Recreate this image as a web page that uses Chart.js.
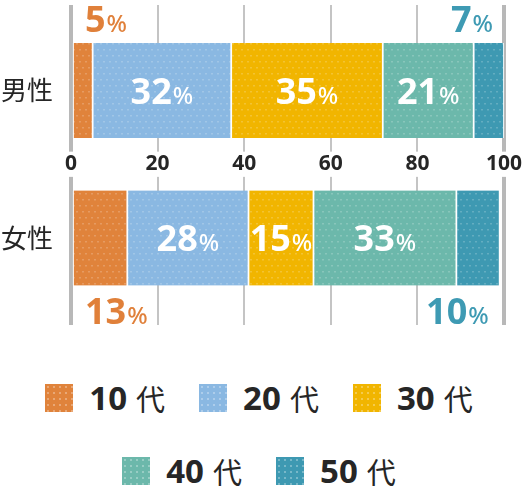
<!DOCTYPE html>
<html lang="ja">
<head>
<meta charset="utf-8">
<title>年代別構成比</title>
<script src="https://cdn.jsdelivr.net/npm/chart.js@4.4.1/dist/chart.umd.min.js"></script>
<style>
  html, body { margin: 0; padding: 0; background: #fff; overflow: hidden; }
  #wrap { position: relative; width: 528px; height: 492px; }
  #chartBox { position: absolute; left: 0; top: 0; width: 528px; height: 340px; }
  #legend {
    position: absolute; left: 0; top: 384px; width: 518px;
    display: flex; justify-content: center;
  }
  #legend ul {
    list-style: none; margin: 0; padding: 0; width: 460px;
    display: flex; flex-wrap: wrap; justify-content: center;
    column-gap: 34px; row-gap: 45px;
  }
  #legend li { display: flex; align-items: center; height: 28px; color: #262626; }
  #legend .box { width: 28px; height: 28px; margin-right: 16px; }
  #legend .num { font: 700 33px "Noto Sans", sans-serif; line-height: 28px; }
  #legend .suf { font: 400 29px "Noto Sans CJK JP", sans-serif; line-height: 28px; margin-left: 9px; }
</style>
</head>
<body>
<div id="wrap">
  <div id="chartBox"><canvas id="ageChart"></canvas></div>
  <div id="legend"></div>
</div>
<script>
// データ
const categories = ['男性', '女性'];
const ageGroups = ['10代', '20代', '30代', '40代', '50代'];
const maleValues = [5, 32, 35, 21, 7];
const femaleValues = [13, 28, 15, 33, 10];
const xTicks = [0, 20, 40, 60, 80, 100];

// 色
const barColors = ['#e0833b', '#8ab8e2', '#f1b500', '#6cb8ab', '#3e99b2'];
const outsideColors = ['#e0803a', '#3e9ab3', '#3e9ab3', '#3e9ab3', '#3e9ab3'];

const numFont = '700 36px "Noto Sans", sans-serif';
const pctFont = '500 24px "Noto Sans", sans-serif';
const catFont = '400 26px "Noto Sans CJK JP", sans-serif';

// HTML の凡例（チャートより先に作る）
const ul = document.createElement('ul');
ageGroups.forEach((label, i) => {
    const m = label.match(/^(\d+)(.*)$/);
    const li = document.createElement('li');
    const box = document.createElement('span');
    box.className = 'box';
    box.style.background = barColors[i];
    box.style.backgroundImage = 'radial-gradient(rgba(255,255,255,0.3) 0.8px, transparent 1.1px)';
    box.style.backgroundSize = '6px 6px';
    const num = document.createElement('span');
    num.className = 'num';
    num.textContent = m[1];
    const suf = document.createElement('span');
    suf.className = 'suf';
    suf.textContent = m[2];
    li.appendChild(box);
    li.appendChild(num);
    li.appendChild(suf);
    ul.appendChild(li);
});
document.getElementById('legend').appendChild(ul);

// ドット柄のパターン
function makePattern(color) {
    const c = document.createElement('canvas');
    c.width = 6;
    c.height = 12;
    const g = c.getContext('2d');
    g.fillStyle = color;
    g.fillRect(0, 0, 6, 12);
    g.fillStyle = 'rgba(255,255,255,0.2)';
    g.fillRect(1, 1, 2, 1.5);
    g.fillRect(4, 7, 2, 1.5);
    return g.createPattern(c, 'repeat');
}

// 棒の中・外にパーセント、左にカテゴリ名を描く
const pctLabels = {
    id: 'pctLabels',
    afterDatasetsDraw(chart) {
        const ctx = chart.ctx;
        chart.data.datasets.forEach((ds, i) => {
            const meta = chart.getDatasetMeta(i);
            meta.data.forEach((bar, j) => {
                const v = ds.data[j].x;
                const p = bar.getProps(['x', 'y', 'base', 'height'], true);
                const left = Math.min(p.x, p.base);
                const right = Math.max(p.x, p.base);
                ctx.save();
                ctx.font = numFont;
                const wn = ctx.measureText(String(v)).width;
                ctx.font = pctFont;
                const wp = ctx.measureText('%').width;
                const w = wn + 1 + wp;
                let sx, baseline, color;
                if (v >= 15) {
                    sx = (left + right) / 2 - w / 2;
                    baseline = p.y + 13;
                    color = '#fff';
                } else {
                    // 小さい値は棒の外に
                    color = outsideColors[i];
                    sx = i === 0 ? left + 12 : right - 11 - w;
                    baseline = j === 0 ? p.y - p.height / 2 - 11 : p.y + p.height / 2 + 39;
                }
                ctx.fillStyle = color;
                ctx.textAlign = 'left';
                ctx.textBaseline = 'alphabetic';
                ctx.font = numFont;
                ctx.fillText(String(v), sx, baseline);
                ctx.font = pctFont;
                ctx.fillText('%', sx + wn + 1, baseline);
                ctx.restore();
            });
        });
    },
    afterDraw(chart) {
        const ctx = chart.ctx;
        const yScale = chart.scales.y;
        ctx.save();
        ctx.font = catFont;
        ctx.fillStyle = '#262626';
        ctx.textAlign = 'right';
        ctx.textBaseline = 'middle';
        categories.forEach((c, i) => {
            ctx.fillText(c, yScale.right - 18, yScale.getPixelForValue(i));
        });
        ctx.restore();
    }
};

const datasets = ageGroups.map((g, i) => ({
    label: g,
    data: [{ x: maleValues[i], y: 0 }, { x: femaleValues[i], y: 1 }],
    backgroundColor: makePattern(barColors[i]),
    borderColor: '#fff',
    borderWidth: { left: 1.2, right: 1.2, top: 0, bottom: 0 },
    borderSkipped: false,
    barThickness: 95
}));

const chart = new Chart(document.getElementById('ageChart'), {
    type: 'bar',
    data: { datasets: datasets },
    plugins: [pctLabels],
    options: {
        indexAxis: 'y',
        responsive: true,
        maintainAspectRatio: false,
        animation: false,
        layout: { padding: { left: 0, right: 24, top: 5, bottom: 15 } },
        plugins: {
            legend: { display: false },
            tooltip: { enabled: false }
        },
        scales: {
            x: {
                type: 'linear',
                stacked: true,
                min: 0,
                max: 100,
                position: { y: 0.5 },
                afterBuildTicks: (scale) => { scale.ticks = xTicks.map(v => ({ value: v })); },
                afterFit: (scale) => {
                    scale.paddingLeft = 0;
                    scale.paddingRight = 0;
                    scale.paddingTop = 0;
                    scale.paddingBottom = 0;
                },
                border: { display: false },
                grid: {
                    drawTicks: false,
                    color: (c) => (c.tick && (c.tick.value === 0 || c.tick.value === 100)) ? '#b8b8b8' : '#c4c4c4',
                    lineWidth: (c) => (c.tick && (c.tick.value === 0 || c.tick.value === 100)) ? 4 : 2
                },
                ticks: {
                    padding: 0,
                    crossAlign: 'center',
                    color: '#262626',
                    font: { family: '"Noto Sans", sans-serif', size: 21, weight: 'bold' },
                    showLabelBackdrop: true,
                    backdropColor: '#fff',
                    backdropPadding: { x: 3, y: 0 }
                }
            },
            y: {
                type: 'linear',
                stacked: true,
                offset: false,
                reverse: true,
                min: -0.58,
                max: 1.59,
                afterBuildTicks: (scale) => { scale.ticks = categories.map((c, i) => ({ value: i })); },
                afterFit: (scale) => {
                    scale.width = 71;
                    scale.paddingTop = 0;
                    scale.paddingBottom = 0;
                },
                border: { display: false },
                grid: { display: false },
                ticks: { display: false }
            }
        }
    }
});
</script>
</body>
</html>
